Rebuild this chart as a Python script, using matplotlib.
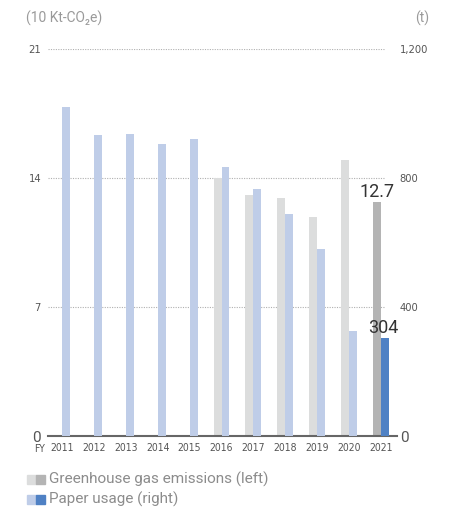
import numpy as np
import matplotlib
matplotlib.use("Agg")
import matplotlib.pyplot as plt
from matplotlib import font_manager
from matplotlib.patches import Rectangle

# Data
years = ["2011", "2012", "2013", "2014", "2015", "2016", "2017", "2018", "2019", "2020", "2021"]
ghg = [np.nan, np.nan, np.nan, np.nan, np.nan, 14.0, 13.1, 12.9, 11.9, 15.0, 12.7]  # 10 Kt-CO2e
paper = [1020, 933, 936, 905, 921, 834, 766, 688, 580, 326, 304]                    # t
left_ticks = [0, 7, 14, 21]
right_ticks = [0, 400, 800, 1200]
right_ticklabels = ["0", "400", "800", "1,200"]

GHG_LIGHT, GHG_DARK = "#dcdddd", "#b4b4b4"
PAPER_LIGHT, PAPER_DARK = "#bfcde8", "#4f81c4"
TEXT = "#8c8c8c"
TICK = "#555555"

names = {f.name for f in font_manager.fontManager.ttflist}
narrow = ["Liberation Sans Narrow"] if "Liberation Sans Narrow" in names else ["DejaVu Sans"]
narrow_kw = dict(family=narrow, stretch="condensed")
plt.rcParams["font.family"] = ["Roboto", "DejaVu Sans"]

W, H = 459, 524
fig = plt.figure(figsize=(W / 100, H / 100), dpi=100)
x0, x1, yb, yt = 48, 397, 436, 49
ax = fig.add_axes([x0 / W, 1 - yb / H, (x1 - x0) / W, (yb - yt) / H])
ax2 = ax.twinx()

pitch = 31.9
xlo = (x0 - 62) / pitch
xhi = (x1 - 62) / pitch
n = len(years)
idx = np.arange(n)
bw = 0.25

ghg_cols = [GHG_LIGHT] * (n - 1) + [GHG_DARK]
paper_cols = [PAPER_LIGHT] * (n - 1) + [PAPER_DARK]
ax.bar(idx - bw / 2, np.nan_to_num(ghg), width=bw, color=ghg_cols, zorder=3, linewidth=0)
ax2.bar(idx + bw / 2, paper, width=bw, color=paper_cols, zorder=3, linewidth=0)

ax.set_xlim(xlo, xhi)
ax.set_ylim(0, 21)
ax2.set_ylim(0, 1200)

# Dotted grid lines
gx = (385 - x0) / (x1 - x0)
for t in left_ticks[1:]:
    ax.axhline(t, xmin=0, xmax=gx, color="#b0b0b0", lw=0.8, ls=(0, (1, 1.2)), zorder=1)
ax.axhline(0, color="#666666", lw=1.5, zorder=4, clip_on=False)

for a in (ax, ax2):
    for s in a.spines.values():
        s.set_visible(False)
    a.tick_params(length=0)

ax.set_yticks(left_ticks)
ax.set_yticklabels([str(t) for t in left_ticks], fontsize=8, color=TICK, **narrow_kw)
ax.tick_params(axis="y", pad=5)
ax2.set_yticks(right_ticks)
ax2.set_yticklabels(right_ticklabels, fontsize=8, color=TICK, **narrow_kw)
ax2.tick_params(axis="y", pad=2)
for lab in (ax.get_yticklabels()[0], ax2.get_yticklabels()[0]):
    lab.set_fontsize(11)
    lab.set_family(["Roboto", "DejaVu Sans"])

ax.set_xticks(idx)
ax.set_xticklabels(years, fontsize=7.5, color=TICK, **narrow_kw)
ax.tick_params(axis="x", pad=5)
fig.text(34 / W, 1 - 449 / H, "FY", fontsize=7.5, color=TICK, va="center", ha="left", **narrow_kw)

# Value labels for the latest year
ax.text(idx[-1] - bw / 2, ghg[-1] + 0.28, f"{ghg[-1]:.1f}", ha="center", va="baseline",
        fontsize=13, color="#333333")
ax2.text(idx[-1] + 0.08, paper[-1] + 16, f"{paper[-1]}", ha="center", va="baseline",
         fontsize=13, color="#333333")

# Unit captions
fig.text(26 / W, 1 - 18 / H, "(10 Kt-CO\u2082e)", fontsize=10, color="#9a9a9a", va="center", ha="left")
fig.text(429 / W, 1 - 18 / H, "(t)", fontsize=10, color="#9a9a9a", va="center", ha="right")

# Legend
for yy, (c1, c2), label in [(479, (GHG_LIGHT, GHG_DARK), "Greenhouse gas emissions (left)"),
                            (499, (PAPER_LIGHT, PAPER_DARK), "Paper usage (right)")]:
    fig.add_artist(Rectangle((27 / W, 1 - (yy + 4.5) / H), 9 / W, 9 / H, color=c1, transform=fig.transFigure))
    fig.add_artist(Rectangle((36 / W, 1 - (yy + 4.5) / H), 9 / W, 9 / H, color=c2, transform=fig.transFigure))
    fig.text(49 / W, 1 - yy / H, label, fontsize=11, color=TEXT, va="center", ha="left")

fig.savefig("out.png", dpi=100)
